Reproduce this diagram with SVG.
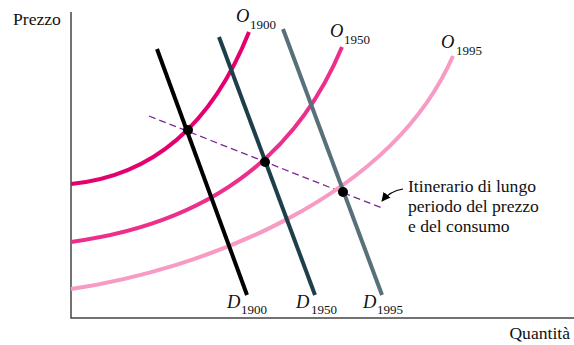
<svg xmlns="http://www.w3.org/2000/svg" width="574" height="345" viewBox="0 0 574 345">
<defs>
<style>
.t{font-family:"Liberation Serif","Times New Roman",serif;fill:#111;font-size:17.6px}
.it{font-style:italic;font-size:18.5px}
.sub{font-size:13px}
.curve{fill:none;stroke-width:4;stroke-linecap:butt}
.dem{fill:none;stroke-width:4}
.dot{fill:#000}
</style>
<marker id="ah" viewBox="0 0 10 10" refX="9" refY="5" markerWidth="9" markerHeight="9" markerUnits="userSpaceOnUse" orient="auto">
<path d="M0,0 L10,5 L0,10 z" fill="#000"/>
</marker>
</defs>
<rect width="574" height="345" fill="#fff"/>
<g id="axes">
<path d="M71,12 V318 H574" fill="none" stroke="#444" stroke-width="1.5"/>
<text class="t" x="13" y="25">Prezzo</text>
<text class="t" x="570" y="339" text-anchor="end">Quantità</text>
</g>
<g id="connectors">
<path id="path-dashed" d="M149,116 L382,208" stroke="#7a2a90" stroke-width="1.3" stroke-dasharray="7,4" fill="none"/>
<path id="arrow" d="M403,189 Q390,191 382,201" stroke="#000" stroke-width="1.2" fill="none" marker-end="url(#ah)"/>
</g>
<g id="O1900">
<path class="curve" d="M71,184 Q193,172 249,32" stroke="#e4006e"/>
<text class="t it" x="236" y="22">O</text><text class="t sub" x="250" y="29">1900</text>
</g>
<g id="O1950">
<path class="curve" d="M71,242 Q272,215 342,47" stroke="#ec2f8b"/>
<text class="t it" x="330" y="37">O</text><text class="t sub" x="344" y="44">1950</text>
</g>
<g id="O1995">
<path class="curve" d="M71,289 C200,270 390,200 453,56" stroke="#f79ac4"/>
<text class="t it" x="441" y="48">O</text><text class="t sub" x="456" y="55">1995</text>
</g>
<g id="D1900">
<path class="dem" d="M157,49 L247,295" stroke="#000"/>
<text class="t it" x="227" y="308">D</text><text class="t sub" x="241" y="314">1900</text>
</g>
<g id="D1950">
<path class="dem" d="M219,37 L315,295" stroke="#1e3f4a"/>
<text class="t it" x="296" y="308">D</text><text class="t sub" x="311" y="314">1950</text>
</g>
<g id="D1995">
<path class="dem" d="M283,29 L382,295" stroke="#57707a"/>
<text class="t it" x="363" y="308">D</text><text class="t sub" x="377" y="314">1995</text>
</g>
<g id="equilibria">
<circle class="dot" cx="188" cy="130" r="5"/>
<circle class="dot" cx="265" cy="162" r="5"/>
<circle class="dot" cx="343" cy="192" r="5"/>
</g>
<g id="label">
<text class="t" x="408" y="192">Itinerario di lungo</text>
<text class="t" x="408" y="212">periodo del prezzo</text>
<text class="t" x="408" y="232">e del consumo</text>
</g>
</svg>
